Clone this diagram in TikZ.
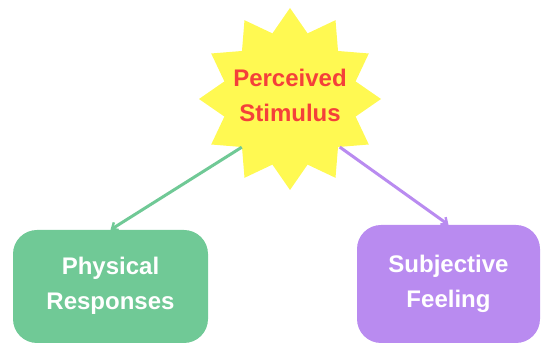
\documentclass[tikz,border=0pt]{standalone}
\usepackage{fontspec}
\setmainfont{Liberation Sans}
\usetikzlibrary{shapes.geometric,arrows.meta}
\definecolor{burst}{HTML}{FFF952}
\definecolor{burstText}{HTML}{F4403A}
\definecolor{physGreen}{HTML}{70C996}
\definecolor{subjPurple}{HTML}{B98BF0}
\tikzset{
  label text/.style={font=\bfseries\fontsize{24}{35}\selectfont, align=center},
  outcome/.style={rounded corners=24pt, draw=none, text=white, label text},
  link/.style={line width=3pt, -{Straight Barb[length=5pt,width=9pt,line width=2.4pt]}},
}
\begin{document}
\begin{tikzpicture}[x=1pt,y=-1pt]
  \useasboundingbox (0,0) rectangle (542,347);
  % central starburst, its caption set as a centred label
  \node[star, star points=12, star point ratio=1.34, minimum size=182pt,
        inner sep=0pt, fill=burst,
        label={[label text, text=burstText, yshift=4pt]center:Perceived\\Stimulus}]
        (stim) at (290,99) {};
  % outcome boxes
  \node[outcome, fill=physGreen, minimum width=195pt, minimum height=113pt,
        text depth=6pt]
        (phys) at (110.5,286.5) {Physical\\Responses};
  \node[outcome, fill=subjPurple, minimum width=183pt, minimum height=118pt]
        (subj) at (448.5,284) {Subjective\\Feeling};
  % connectors
  \draw[link, physGreen] (stim.225) -- (phys.north);
  \draw[link, subjPurple] (stim.-44) -- (subj.north);
\end{tikzpicture}
\end{document}
